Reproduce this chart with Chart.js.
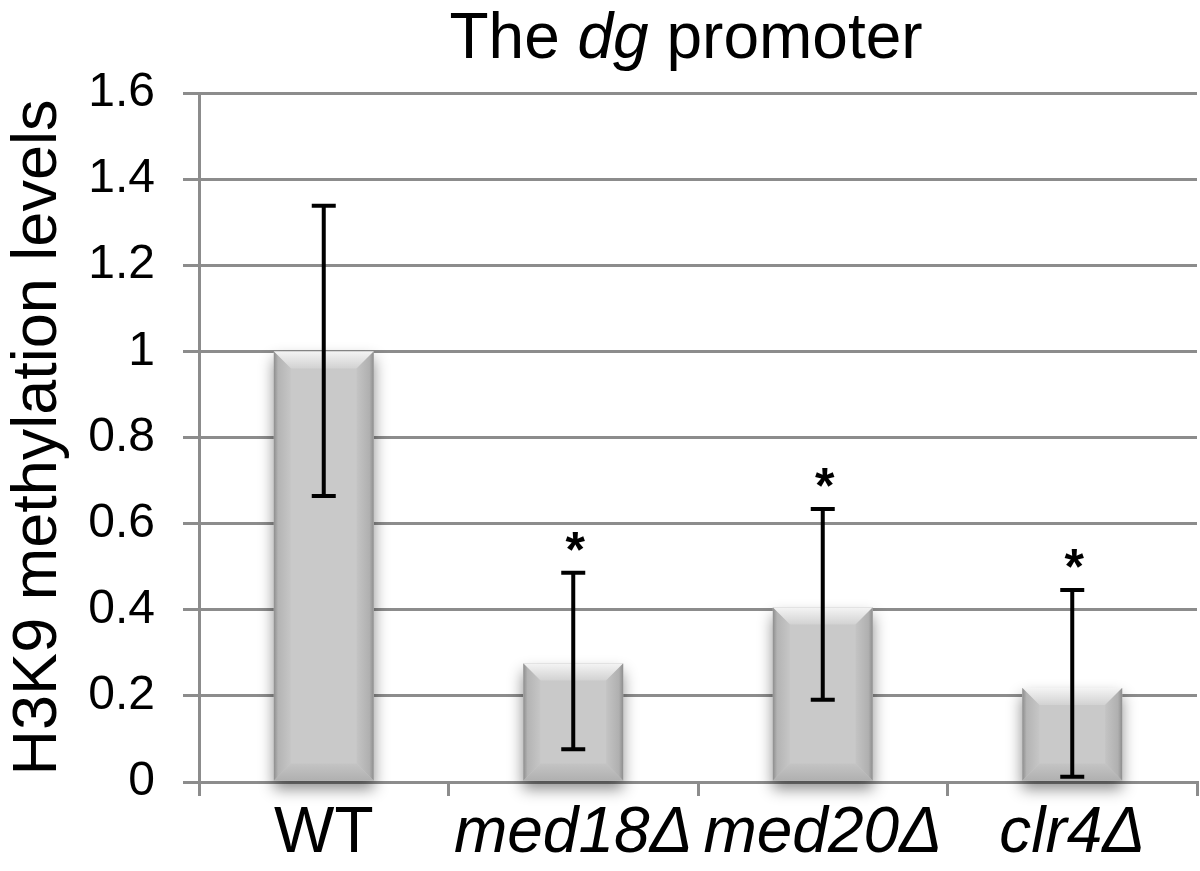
<!DOCTYPE html>
<html>
<head>
<meta charset="utf-8">
<title>The dg promoter</title>
<script src="https://cdn.jsdelivr.net/npm/chart.js@4"></script>
<style>
  html, body { margin: 0; padding: 0; background: #fff; }
  #wrap { width: 1200px; height: 871px; position: relative; }
</style>
</head>
<body>
<div id="wrap"><canvas id="chart"></canvas></div>
<script>
const categories = ['WT', 'med18\u0394', 'med20\u0394', 'clr4\u0394'];
const levels = [1.0, 0.275, 0.405, 0.218];
const errLow = [0.664, 0.076, 0.191, 0.012];
const errHigh = [1.338, 0.486, 0.634, 0.446];
const significant = [false, true, true, true];
const yTickLabels = ['0', '0.2', '0.4', '0.6', '0.8', '1', '1.2', '1.4', '1.6'];

const FONT = '"Liberation Sans", Arial, Helvetica, sans-serif';
const GRID = '#8c8c8c';

// shadow under the bars, then bevel + error bars + asterisks on top
const bevelBars = {
  id: 'bevelBars',
  beforeDatasetsDraw(chart){
    const ctx = chart.ctx;
    chart.getDatasetMeta(0).data.forEach(bar => {
      const l = bar.x - bar.width/2, t = bar.y;
      ctx.save();
      ctx.shadowColor = 'rgba(0,0,0,0.45)';
      ctx.shadowBlur = 14;
      ctx.shadowOffsetY = 8;
      ctx.fillStyle = '#b8b8b8';
      ctx.fillRect(l, t, bar.width, bar.base - t);
      ctx.restore();
    });
  },
  afterDatasetsDraw(chart){
    const ctx = chart.ctx;
    const y = chart.scales.y;
    const b = 17;
    chart.getDatasetMeta(0).data.forEach((bar, i) => {
      const l = bar.x - bar.width/2, r = bar.x + bar.width/2, t = bar.y, bot = bar.base;
      ctx.save();
      // top bevel
      let g = ctx.createLinearGradient(0, t, 0, t + b);
      g.addColorStop(0, '#f4f4f4'); g.addColorStop(1, '#d2d2d2');
      ctx.fillStyle = g;
      ctx.beginPath(); ctx.moveTo(l, t); ctx.lineTo(r, t); ctx.lineTo(r - b, t + b); ctx.lineTo(l + b, t + b); ctx.closePath(); ctx.fill();
      // bottom bevel
      g = ctx.createLinearGradient(0, bot - b, 0, bot);
      g.addColorStop(0, '#c4c4c4'); g.addColorStop(1, '#b0b0b0');
      ctx.fillStyle = g;
      ctx.beginPath(); ctx.moveTo(l, bot); ctx.lineTo(r, bot); ctx.lineTo(r - b, bot - b); ctx.lineTo(l + b, bot - b); ctx.closePath(); ctx.fill();
      // left bevel
      g = ctx.createLinearGradient(l, 0, l + b, 0);
      g.addColorStop(0, '#8e8e8e'); g.addColorStop(0.25, '#b4b4b4'); g.addColorStop(1, '#c6c6c6');
      ctx.fillStyle = g;
      ctx.beginPath(); ctx.moveTo(l, t); ctx.lineTo(l + b, t + b); ctx.lineTo(l + b, bot - b); ctx.lineTo(l, bot); ctx.closePath(); ctx.fill();
      // right bevel
      g = ctx.createLinearGradient(r, 0, r - b, 0);
      g.addColorStop(0, '#8e8e8e'); g.addColorStop(0.25, '#b0b0b0'); g.addColorStop(1, '#c4c4c4');
      ctx.fillStyle = g;
      ctx.beginPath(); ctx.moveTo(r, t); ctx.lineTo(r - b, t + b); ctx.lineTo(r - b, bot - b); ctx.lineTo(r, bot); ctx.closePath(); ctx.fill();

      // error bar
      const yl = y.getPixelForValue(errLow[i]), yh = y.getPixelForValue(errHigh[i]);
      ctx.strokeStyle = '#000';
      ctx.lineWidth = 4;
      ctx.beginPath();
      ctx.moveTo(bar.x, yl); ctx.lineTo(bar.x, yh);
      ctx.moveTo(bar.x - 12, yl); ctx.lineTo(bar.x + 12, yl);
      ctx.moveTo(bar.x - 12, yh); ctx.lineTo(bar.x + 12, yh);
      ctx.stroke();

      if (significant[i]) {
        ctx.fillStyle = '#000';
        ctx.font = 'bold 50px ' + FONT;
        ctx.textAlign = 'center';
        ctx.textBaseline = 'alphabetic';
        ctx.fillText('*', bar.x + 2, yh - 6);
      }
      ctx.restore();
    });
  },
  afterDraw(chart){
    // title with italic "dg"
    const ctx = chart.ctx;
    const parts = [['The ', 'normal'], ['dg', 'italic'], [' promoter', 'normal']];
    ctx.save();
    ctx.fillStyle = '#000';
    ctx.textBaseline = 'alphabetic';
    ctx.textAlign = 'left';
    let total = 0;
    parts.forEach(p => { ctx.font = p[1] + ' 64px ' + FONT; total += ctx.measureText(p[0]).width; });
    let x = 686 - total/2;
    parts.forEach(p => { ctx.font = p[1] + ' 64px ' + FONT; ctx.fillText(p[0], x, 58); x += ctx.measureText(p[0]).width; });
    ctx.restore();
  }
};

new Chart(document.getElementById('chart'), {
  type: 'bar',
  data: {
    labels: categories,
    datasets: [{
      data: levels,
      backgroundColor: '#c9c9c9',
      borderWidth: 0,
      barPercentage: 0.4,
      categoryPercentage: 1
    }]
  },
  options: {
    responsive: true,
    maintainAspectRatio: false,
    animation: false,
    layout: { padding: { top: 93, right: 3, left: 0, bottom: 0 } },
    plugins: { legend: { display: false }, tooltip: { enabled: false } },
    scales: {
      x: {
        afterFit: s => { s.height = 89; },
        grid: { drawOnChartArea: false, drawTicks: true, tickLength: 14, color: GRID, lineWidth: 3, offset: true },
        border: { display: true, color: GRID, width: 3 },
        ticks: {
          color: '#000',
          padding: 6,
          font: c => ({ family: FONT, size: 64, lineHeight: 1, style: c.index === 0 ? 'normal' : 'italic' })
        }
      },
      y: {
        min: 0, max: 1.6,
        afterFit: s => { s.width = 199; },
        grid: { color: GRID, lineWidth: 3, tickLength: 16 },
        border: { display: true, color: GRID, width: 3 },
        ticks: {
          stepSize: 0.2,
          color: '#000',
          padding: 28,
          font: { family: FONT, size: 48 },
          callback: (v, i) => yTickLabels[i]
        },
        title: {
          display: true,
          text: 'H3K9 methylation levels',
          color: '#000',
          font: { family: FONT, size: 63 },
          padding: { top: 1, bottom: 0 }
        }
      }
    }
  },
  plugins: [bevelBars]
});
</script>
</body>
</html>
